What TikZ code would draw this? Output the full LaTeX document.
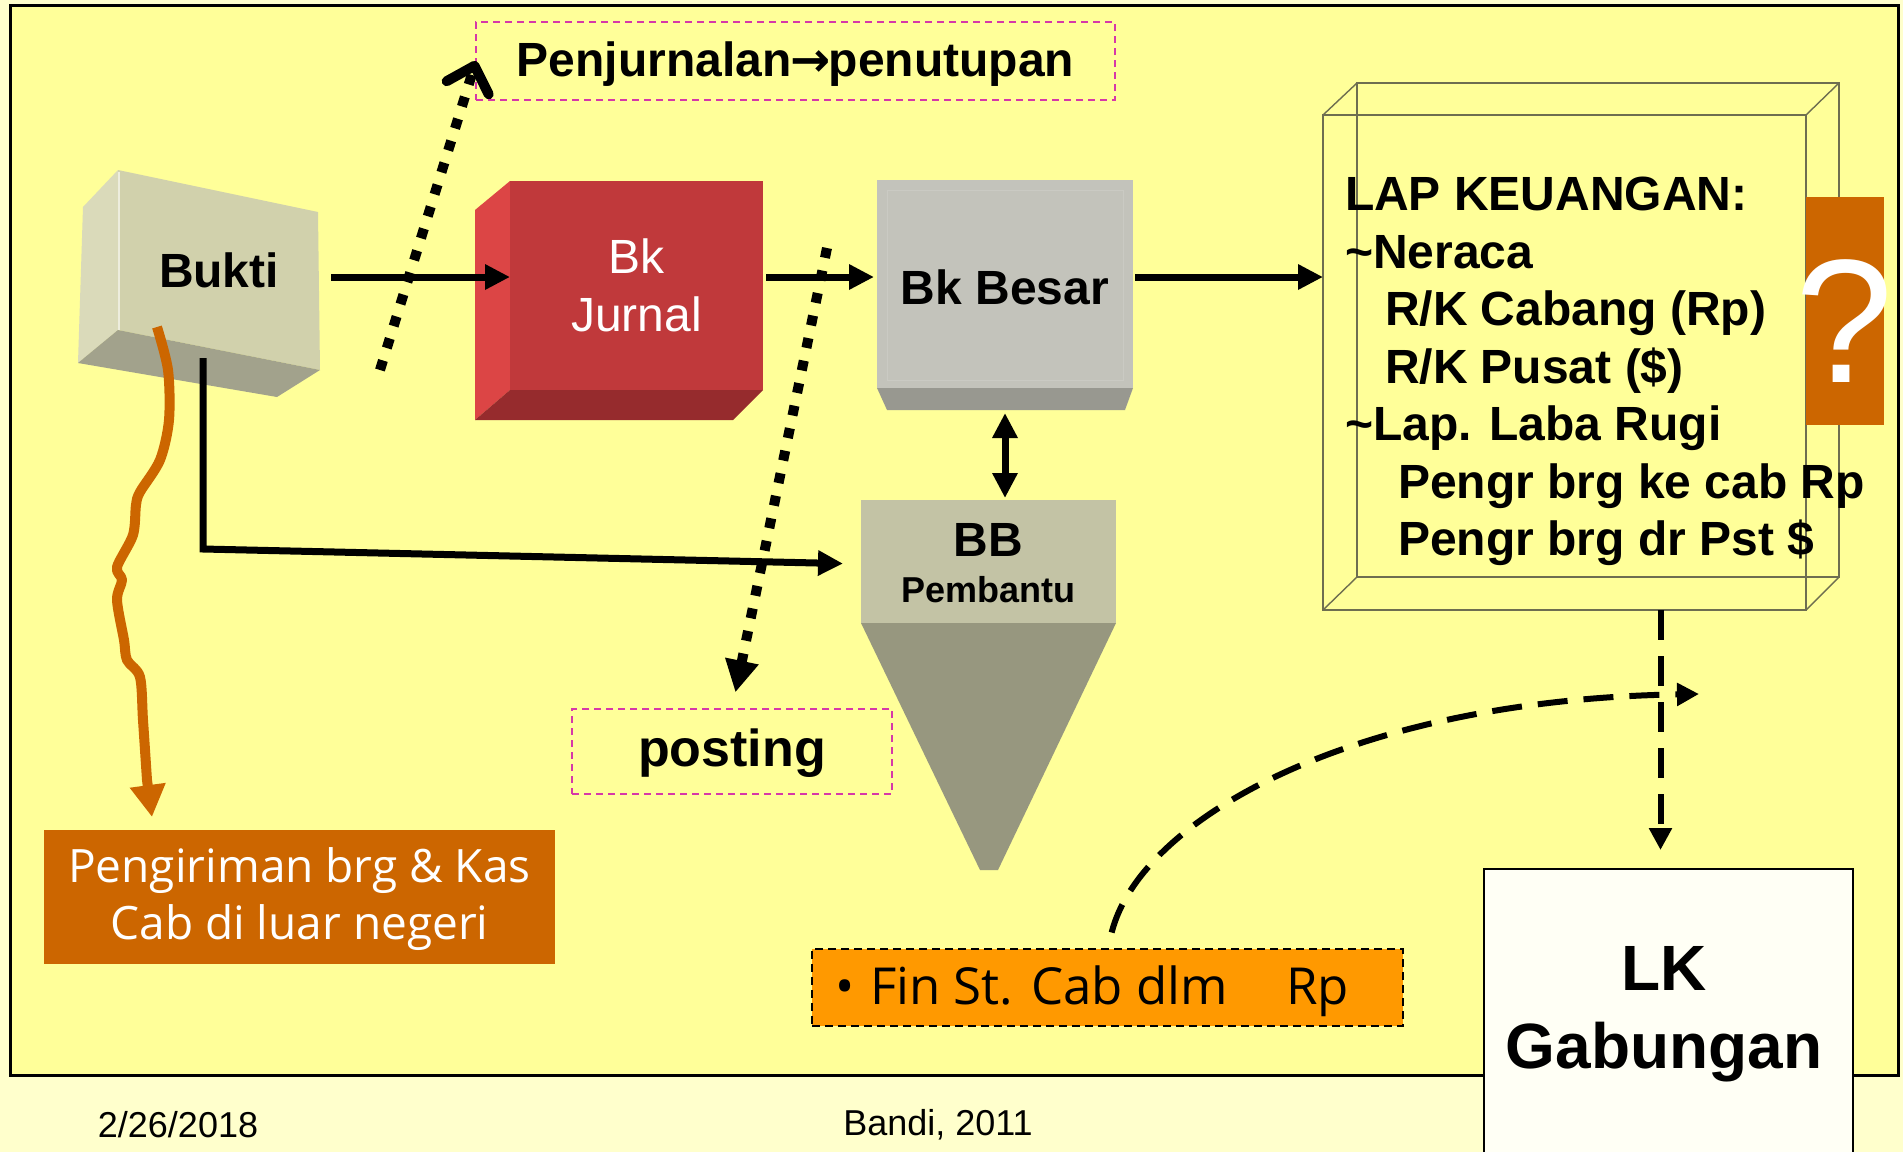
\documentclass[tikz,border=0pt]{standalone}
\usepackage{fontspec}
\setmainfont{Liberation Sans}
\newfontfamily\lightfont{Open Sans}
\newfontfamily\arrowfont{DejaVu Sans}
\usetikzlibrary{arrows.meta}
\definecolor{bgyel}{RGB}{255,255,153}
\definecolor{bglow}{RGB}{255,255,204}
\definecolor{burnt}{RGB}{204,102,0}
\definecolor{amber}{RGB}{255,153,0}
\definecolor{mag}{RGB}{214,56,168}
\definecolor{wire}{RGB}{110,110,80}
\definecolor{bkfront}{RGB}{209,209,172}
\definecolor{bkleft}{RGB}{218,218,186}
\definecolor{bkbot}{RGB}{162,162,140}
\definecolor{jfront}{RGB}{192,57,59}
\definecolor{jleft}{RGB}{220,69,69}
\definecolor{jbot}{RGB}{150,43,45}
\definecolor{gfront}{RGB}{195,195,187}
\definecolor{gbot}{RGB}{152,152,144}
\definecolor{bbtop}{RGB}{195,195,165}
\definecolor{bbtri}{RGB}{151,151,127}
\definecolor{lkfill}{RGB}{255,255,245}
\begin{document}
\begin{tikzpicture}[x=0.5pt,y=-0.5pt,
  every node/.style={inner sep=0pt,outer sep=0pt},
  blbl/.style={font=\bfseries\fontsize{24}{28.8}\selectfont,align=center},
  arr/.style={line width=3.5pt,-{Triangle[length=12.5pt,width=12pt]}},
  dotline/.style={line width=5pt,dash pattern=on 5pt off 6.5pt},
  dashline/.style={line width=3pt,dash pattern=on 15pt off 8pt},
  magbox/.style={draw=mag,line width=1pt,dash pattern=on 3.5pt off 2.5pt},
  lighttxt/.style={text=white,font=\lightfont\fontsize{23}{28.5}\selectfont,align=center}
]
\useasboundingbox (0,0) rectangle (1903,1152);
\clip (0,0) rectangle (1903,1152);
\fill[bglow] (0,0) rectangle (1903,1152);
\filldraw[fill=bgyel,draw=black,line width=1.5pt] (10,5) rectangle (1898,1075);

% Bukti
\fill[bkleft] (83,207) -- (118,170) -- (118,330) -- (78,363) -- cycle;
\fill[bkfront] (118,170) -- (318,212) -- (320,370) -- (118,330) -- cycle;
\fill[bkbot] (118,330) -- (320,370) -- (277,397) -- (78,363) -- cycle;
\draw[white!60!bkfront,line width=1pt] (119,172) -- (119,330);
\node[minimum width=101pt,minimum height=100pt] (bukti) at (219,270) {};
\node[blbl] at (bukti) {Bukti};

% Bk Jurnal
\fill[jleft] (475,210) -- (510,181) -- (510,390) -- (475,420) -- cycle;
\fill[jfront] (510,181) rectangle (763,390);
\fill[jbot] (510,390) -- (763,390) -- (733,420) -- (475,420) -- cycle;
\node[minimum width=126.5pt,minimum height=104.5pt] (jurnal) at (636.5,285.5) {};
\node[font=\fontsize{24}{29}\selectfont,text=white,align=center] at (jurnal) {Bk\\Jurnal};

% Bk Besar
\fill[gfront] (877,180) rectangle (1133,388);
\draw[white!12!gfront,line width=0.5pt] (887,190) rectangle (1123,380);
\fill[gbot] (877,388) -- (1133,388) -- (1125,410) -- (887,410) -- cycle;
\node[minimum width=128pt,minimum height=104pt] (besar) at (1005,284) {};
\node[blbl] at ([yshift=-1.5pt]besar.center) {Bk Besar};

% BB Pembantu
\fill[bbtri] (861,623) -- (1116,623) -- (998,870) -- (980,870) -- cycle;
\fill[bbtop] (861,500) rectangle (1116,623);
\node[minimum width=127.5pt,minimum height=61.5pt] (bb) at (988.5,561.5) {};
\node[font=\bfseries\fontsize{24}{28}\selectfont] at ([yshift=10.75pt]bb.center) {BB};
\node[font=\bfseries\fontsize{18}{22}\selectfont] at ([yshift=-14.25pt]bb.center) {Pembantu};

% LAP wire box
\draw[wire,line width=0.7pt] (1357,83) rectangle (1839,577);
\draw[wire,line width=0.7pt] (1323,115) -- (1357,83) (1806,115) -- (1839,83) (1323,610) -- (1357,577) (1806,610) -- (1839,577);
\node[draw=wire,line width=0.7pt,minimum width=241.5pt,minimum height=247.5pt] (lap) at (1564.5,362.5) {};

% question box
\node[fill=burnt,minimum width=39pt,minimum height=114pt] (qbox) at (1845,311) {};
\node[text=white,font=\fontsize{88}{88}\selectfont] at (1844,321) {?};

% LAP text
\node[anchor=north west,align=left,font=\bfseries\fontsize{24}{28.75}\selectfont] (laptxt) at (1345,177)
 {LAP KEUANGAN:\\\textasciitilde Neraca\\\hspace*{20pt}R/K Cabang (Rp)\\\hspace*{20pt}R/K Pusat (\$)\\\textasciitilde Lap. Laba Rugi\\\hspace*{26.5pt}Pengr brg ke cab Rp\\\hspace*{26.5pt}Pengr brg dr Pst \$};

% LK Gabungan
\node[draw=black,line width=1.2pt,fill=lkfill,minimum width=184.5pt,minimum height=150.5pt] (lk) at (1668.5,1019.5) {};
\node[font=\bfseries\fontsize{32}{39}\selectfont,align=center] at (1664,1014) {LK\\Gabungan};

% label boxes
\node[magbox,minimum width=319.5pt,minimum height=39pt] (penj) at (795.5,61) {};
\node[font=\bfseries\fontsize{24}{27}\selectfont] at ([yshift=-1.5pt]penj.center) {Penjurnalan{\arrowfont\bfseries\hspace{-0.5pt}→\hspace{-1pt}}penutupan};
\node[magbox,minimum width=160pt,minimum height=42.5pt] (posting) at (732,751.5) {};
\node[font=\bfseries\fontsize{26}{30}\selectfont] at ([yshift=-1pt]posting.center) {posting};

\node[fill=burnt,minimum width=255.5pt,minimum height=67pt] (peng) at (299.5,897) {};
\node[lighttxt] at ([yshift=-1pt]peng.center) {Pengiriman brg \& Kas\\Cab di luar negeri};

\node[fill=amber,draw=black,line width=1pt,dash pattern=on 4pt off 2.5pt,minimum width=295.5pt,minimum height=38.5pt] (fin) at (1107.5,987.5) {};
\node[anchor=base west,font=\lightfont\fontsize{25.5}{30}\selectfont] at (835,1004.5) {•\hspace{8pt}Fin St. Cab dlm};
\node[anchor=base west,font=\lightfont\fontsize{25.5}{30}\selectfont] at (1286,1004.5) {Rp};

% footer
\node[font=\fontsize{18}{22}\selectfont] (date) at (178,1125) {2/26/2018};
\node[font=\fontsize{18}{22}\selectfont] (author) at (938,1125) {Bandi, 2011};

% connectors
\coordinate (row) at (0,277);
\draw[arr,shorten <=5.5pt] (bukti.east |- row) -- (jurnal.west |- row);
\draw[arr,shorten <=1.5pt,shorten >=1.5pt] (jurnal.east |- row) -- (besar.west |- row);
\draw[arr,shorten <=1pt] (besar.east |- row) -- (lap.west |- row);
\draw[line width=3.5pt,{Triangle[length=12.5pt,width=12pt]}-{Triangle[length=12.5pt,width=12pt]},shorten <=12.5pt,shorten >=1pt] (besar.south) -- (besar.south |- bb.north);

\coordinate (bkdown) at (203,358);
\coordinate (bkcorner) at (203,549);
\draw[arr,shorten >=9pt] (bkdown) -- (bkcorner) -- ([yshift=-1.25pt]bb.west);

\coordinate (dotup) at (380,370);
\draw[dotline,-{Straight Barb[length=11.5pt,width=22pt,line cap=round,line join=round]}] (dotup) -- (penj.west);
\coordinate (dotdown) at (827,248);
\draw[dotline,-{Triangle[length=16pt,width=16pt]},shorten >=8.5pt] (dotdown) -- (posting.north);

\coordinate (lkin) at ([xshift=-4pt]lk.north);
\draw[dashline,-{Triangle[length=11pt,width=11pt]},shorten >=9.5pt] (lap.south -| lkin) -- (lkin);
\coordinate (curveEnd) at (1699,694);
\draw[dashline,-{Triangle[length=11pt,width=11pt]},shorten <=8.5pt] (fin.north) .. controls (1140,820) and (1350,700) .. (curveEnd);

\coordinate (wvEnd) at ([xshift=54pt,yshift=6.5pt]peng.north west);
\draw[burnt,line width=5pt,line join=round,-{Triangle[length=16pt,width=17pt]}] plot[smooth,tension=0.5] coordinates {(157,327) (168,370) (169,420) (160,460) (140,492) (136,505) (133,535) (117,567) (122,580) (117,600) (124,640) (127,660) (140,677) (143,720) (147,780)} -- (wvEnd);
\end{tikzpicture}
\end{document}
